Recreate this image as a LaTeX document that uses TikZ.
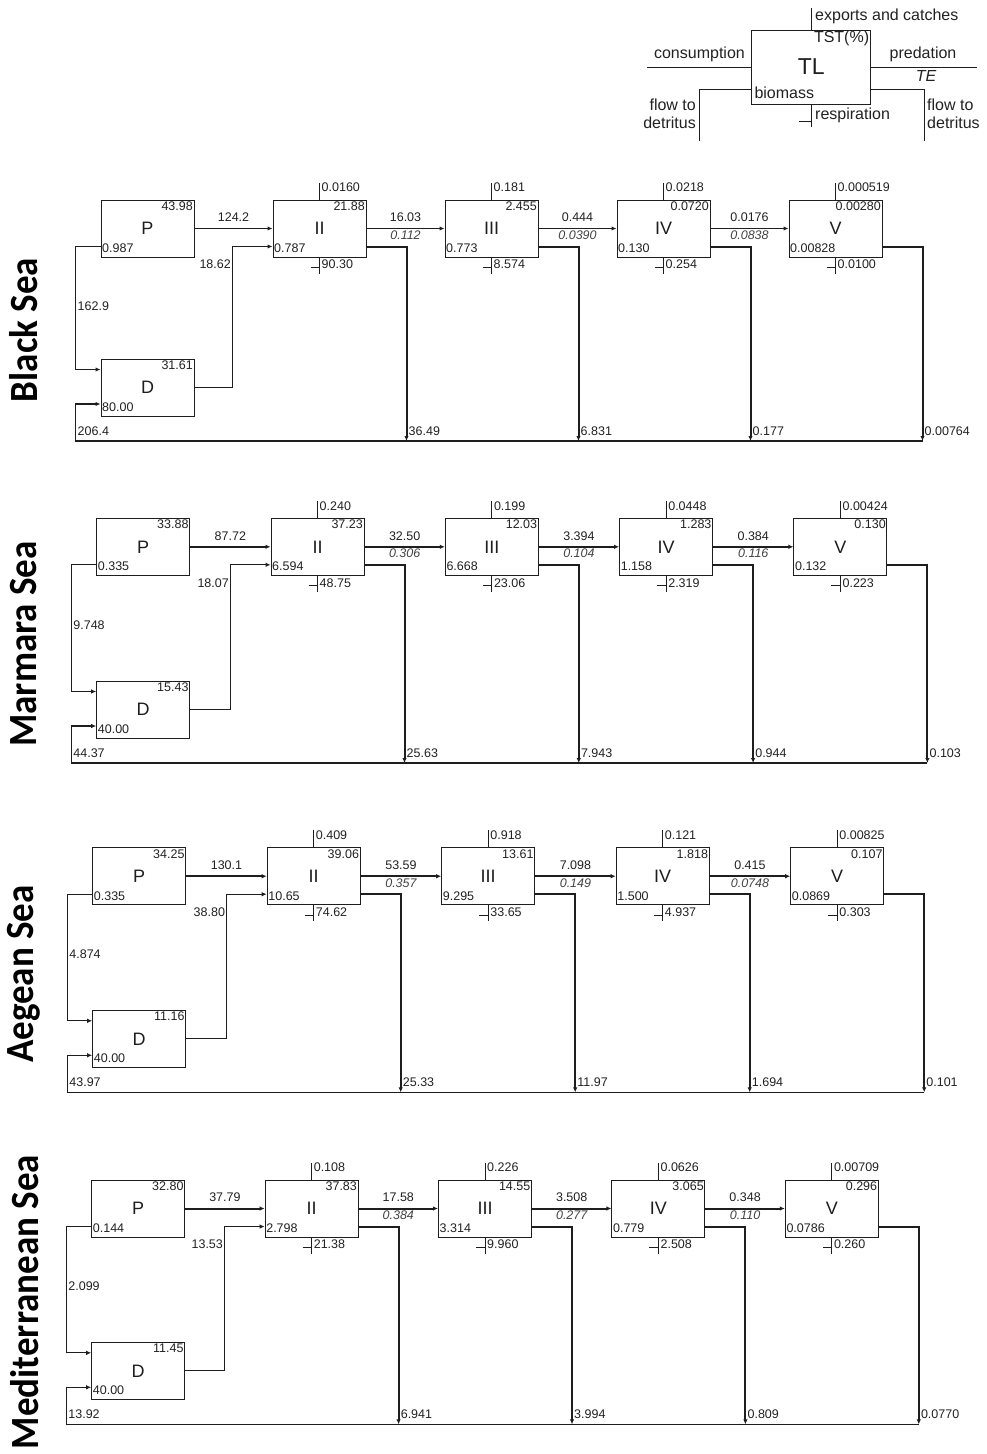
\documentclass[tikz,border=0pt]{standalone}
\usepackage{fontspec}
\setmainfont{Liberation Sans}
\newfontfamily\seafont{Carlito}
\usetikzlibrary{arrows.meta,calc}
\definecolor{ink}{HTML}{1E1E1E}
\definecolor{txt}{HTML}{222222}
\definecolor{tecol}{HTML}{444444}
\tikzset{
 tbox/.style={draw=ink, line width=1pt, minimum width=93pt, minimum height=57pt, inner sep=0pt, font=\fontsize{18}{18}\selectfont, text=ink},
 num/.style={inner sep=0pt, font=\fontsize{12.5}{12.5}\selectfont, text=txt},
 te/.style={inner sep=0pt, font=\fontsize{12.5}{12.5}\selectfont\itshape, text=tecol},
 conn/.style={draw=ink, line width=1.2pt},
 thinconn/.style={draw=ink, line width=1pt},
 flow/.style={conn, -{Latex[length=5pt,width=4.5pt]}},
 heavy/.style={line width=2pt},
 leg/.style={inner sep=0pt, font=\fontsize{16}{18}\selectfont, text=txt},
 legit/.style={inner sep=0pt, font=\fontsize{16}{18}\selectfont\itshape, text=txt},
 sea/.style={rotate=90, font=\seafont\bfseries\fontsize{40}{40}\selectfont, text=black, inner sep=0pt},
}
\newcommand{\seatext}[1]{\scalebox{0.925}[1]{#1}}
% source box (P or D): name, x-left, y-top, label, TST, biomass
\newcommand{\srcbox}[6]{%
 \node[tbox] (#1) at (#2+46.5,#3+28.5) {#4};
 \node[num,anchor=east] at ($(#1.north east)+(-1.5,6.7)$) {#5};
 \node[num,anchor=west] at ($(#1.south west)+(1.5,-9.5)$) {#6};
}
% trophic level box: name, x-left, y-top, label, export, TST, biomass, respiration
\newcommand{\lvl}[8]{%
 \node[tbox] (#1) at (#2+46.5,#3+28.5) {#4};
 \node[num,anchor=east] at ($(#1.north east)+(-1.5,6.7)$) {#6};
 \node[num,anchor=west] at ($(#1.south west)+(1.5,-9.5)$) {#7};
 \draw[thinconn] (#1.north) -- ++(0,-17);
 \node[num,anchor=west] at ($(#1.north)+(2,-12)$) {#5};
 \draw[thinconn] (#1.south) -- ++(0,16);
 \draw[thinconn] ($(#1.south)+(-9,10)$) -- ++(9,0);
 \node[num,anchor=west] at ($(#1.south)+(2,7)$) {#8};
}
% links of P and D: [style] prefix, P->II, D->II, P->D, detritus feedback
\newcommand{\links}[6][]{%
 \coordinate (#2L) at ($(#2D.south west)+(-25,24.5)$);
 \draw[flow,#1] (#2P.east) -- (#2B.west);
 \node[num] at ($(#2P.east)!.5!(#2B.west)+(0,-11)$) {#3};
 \draw[flow] ($(#2P.south west)+(0,-11)$) -| ($(#2D.north west)+(-25,11)$) -- ($(#2D.north west)+(0,11)$);
 \node[num,anchor=west] at ($(#2P.north west)+(-23,107)$) {#5};
 \draw[flow] (#2D.east) -| ($(#2B.south west)+(-40,-11)$) -- ($(#2B.south west)+(0,-11)$);
 \node[num,anchor=east] at ($(#2B.north west)+(-41.5,65)$) {#4};
 \node[num,anchor=west] at ($(#2L)+(2,-10)$) {#6};
}
% predation: [style] from, to, flow, TE
\newcommand{\pred}[5][]{%
 \draw[flow,#1] (#2.east) -- (#3.west);
 \node[num] at ($(#2.east)!.5!(#3.west)+(0,-11)$) {#4};
 \node[te] at ($(#2.east)!.5!(#3.west)+(0,6.5)$) {#5};
}
% flow to detritus: box, bottom-left coordinate, value
\newcommand{\detr}[3]{%
 \coordinate (#1r) at ($(#1.south east)+(40,-11)$);
 \draw[flow,heavy] ($(#1.south east)+(0,-11)$) -- (#1r) -- (#1r |- #2);
 \node[num,anchor=west] at ($(#1r |- #2)+(2,-10)$) {#3};
}
% bottom detritus line and return to D
\newcommand{\bline}[1]{%
 \draw[flow] (#1Fr |- #1L) -- (#1L) |- ($(#1D.north west)+(0,45.5)$);
}
\begin{document}
\begin{tikzpicture}[x=1pt,y=-1pt]
\fill[white] (0,0) rectangle (987,1454);
\useasboundingbox (0,0) rectangle (987,1454);

% ---------------- legend ----------------
\node[tbox, minimum width=119pt, minimum height=74pt, font=\fontsize{23}{23}\selectfont] (tl) at (811.3,67) {TL};
\coordinate (lcons) at (647,67);
\coordinate (lpred) at (977,67);
\draw[thinconn] (lcons) -- (tl.west);
\draw[thinconn] (tl.east) -- (lpred);
\node[leg,anchor=east] (lconst) at (745,54) {consumption};
\node[leg] (lpredt) at (923,54) {predation};
\node[legit] (lte) at (926,76) {TE};
\coordinate (lexp) at (811.3,8);
\draw[thinconn] (tl.north) -- (lexp);
\node[leg,anchor=west] (lexpt) at (815,16) {exports and catches};
\node[leg,anchor=east] (ltst) at ($(tl.north east)+(-2,9)$) {TST(\%)};
\node[leg,anchor=west] (lbio) at ($(tl.south west)+(3,-12)$) {biomass};
\coordinate (ldl) at (699.3,140.7);
\coordinate (ldr) at (924,140.7);
\draw[thinconn] ($(tl.south west)+(0,-15)$) -| (ldl);
\draw[thinconn] ($(tl.south east)+(0,-15)$) -| (ldr);
\node[leg,anchor=east] (ldl1) at (696,105) {flow to};
\node[leg,anchor=east] (ldl2) at (696,123) {detritus};
\node[leg,anchor=west] (ldr1) at (927,105) {flow to};
\node[leg,anchor=west] (ldr2) at (927,123) {detritus};
\coordinate (lresp) at ($(tl.south)+(0,22)$);
\draw[thinconn] (tl.south) -- (lresp);
\draw[thinconn] ($(tl.south)+(-12,16.5)$) -- ++(12,0);
\node[leg,anchor=west] (lrespt) at (815,115) {respiration};

% ---------------- Black Sea ----------------
\node[sea] (seaA) at (24,330) {\seatext{Black Sea}};
\def\px{101}\def\py{200}\def\ps{172}\def\pv{159}
\srcbox{aP}{\px}{\py}{P}{43.98}{0.987}
\srcbox{aD}{\px}{\py+\pv}{D}{31.61}{80.00}
\lvl{aB}{\px+\ps}{\py}{II}{0.0160}{21.88}{0.787}{90.30}
\lvl{aC}{\px+2*\ps}{\py}{III}{0.181}{2.455}{0.773}{8.574}
\lvl{aE}{\px+3*\ps}{\py}{IV}{0.0218}{0.0720}{0.130}{0.254}
\lvl{aF}{\px+4*\ps}{\py}{V}{0.000519}{0.00280}{0.00828}{0.0100}
\links{a}{124.2}{18.62}{162.9}{206.4}
\pred{aB}{aC}{16.03}{0.112}
\pred{aC}{aE}{0.444}{0.0390}
\pred{aE}{aF}{0.0176}{0.0838}
\detr{aB}{aL}{36.49}
\detr{aC}{aL}{6.831}
\detr{aE}{aL}{0.177}
\detr{aF}{aL}{0.00764}
\bline{a}

% ---------------- Marmara Sea ----------------
\node[sea] (seaB) at (24,644) {\seatext{Marmara Sea}};
\def\px{96.7}\def\py{518.3}\def\ps{174.3}\def\pv{162.7}
\srcbox{bP}{\px}{\py}{P}{33.88}{0.335}
\srcbox{bD}{\px}{\py+\pv}{D}{15.43}{40.00}
\lvl{bB}{\px+\ps}{\py}{II}{0.240}{37.23}{6.594}{48.75}
\lvl{bC}{\px+2*\ps}{\py}{III}{0.199}{12.03}{6.668}{23.06}
\lvl{bE}{\px+3*\ps}{\py}{IV}{0.0448}{1.283}{1.158}{2.319}
\lvl{bF}{\px+4*\ps}{\py}{V}{0.00424}{0.130}{0.132}{0.223}
\links[heavy]{b}{87.72}{18.07}{9.748}{44.37}
\pred[heavy]{bB}{bC}{32.50}{0.306}
\pred[heavy]{bC}{bE}{3.394}{0.104}
\pred[heavy]{bE}{bF}{0.384}{0.116}
\detr{bB}{bL}{25.63}
\detr{bC}{bL}{7.943}
\detr{bE}{bL}{0.944}
\detr{bF}{bL}{0.103}
\bline{b}

% ---------------- Aegean Sea ----------------
\node[sea] (seaC) at (24,974) {\seatext{Aegean Sea}};
\def\px{92.7}\def\py{847.7}\def\ps{174.5}\def\pv{162.6}
\srcbox{cP}{\px}{\py}{P}{34.25}{0.335}
\srcbox{cD}{\px}{\py+\pv}{D}{11.16}{40.00}
\lvl{cB}{\px+\ps}{\py}{II}{0.409}{39.06}{10.65}{74.62}
\lvl{cC}{\px+2*\ps}{\py}{III}{0.918}{13.61}{9.295}{33.65}
\lvl{cE}{\px+3*\ps}{\py}{IV}{0.121}{1.818}{1.500}{4.937}
\lvl{cF}{\px+4*\ps}{\py}{V}{0.00825}{0.107}{0.0869}{0.303}
\links[heavy]{c}{130.1}{38.80}{4.874}{43.97}
\pred[heavy]{cB}{cC}{53.59}{0.357}
\pred[heavy]{cC}{cE}{7.098}{0.149}
\pred[heavy]{cE}{cF}{0.415}{0.0748}
\detr{cB}{cL}{25.33}
\detr{cC}{cL}{11.97}
\detr{cE}{cL}{1.694}
\detr{cF}{cL}{0.101}
\bline{c}

% ---------------- Mediterranean Sea ----------------
\node[sea] (seaD) at (25,1302) {\seatext{Mediterranean Sea}};
\def\px{91.7}\def\py{1180}\def\ps{173.4}\def\pv{162.3}
\srcbox{dP}{\px}{\py}{P}{32.80}{0.144}
\srcbox{dD}{\px}{\py+\pv}{D}{11.45}{40.00}
\lvl{dB}{\px+\ps}{\py}{II}{0.108}{37.83}{2.798}{21.38}
\lvl{dC}{\px+2*\ps}{\py}{III}{0.226}{14.55}{3.314}{9.960}
\lvl{dE}{\px+3*\ps}{\py}{IV}{0.0626}{3.065}{0.779}{2.508}
\lvl{dF}{\px+4*\ps}{\py}{V}{0.00709}{0.296}{0.0786}{0.260}
\links[heavy]{d}{37.79}{13.53}{2.099}{13.92}
\pred[heavy]{dB}{dC}{17.58}{0.384}
\pred[heavy]{dC}{dE}{3.508}{0.277}
\pred[heavy]{dE}{dF}{0.348}{0.110}
\detr{dB}{dL}{6.941}
\detr{dC}{dL}{3.994}
\detr{dE}{dL}{0.809}
\detr{dF}{dL}{0.0770}
\bline{d}
\end{tikzpicture}
\end{document}
